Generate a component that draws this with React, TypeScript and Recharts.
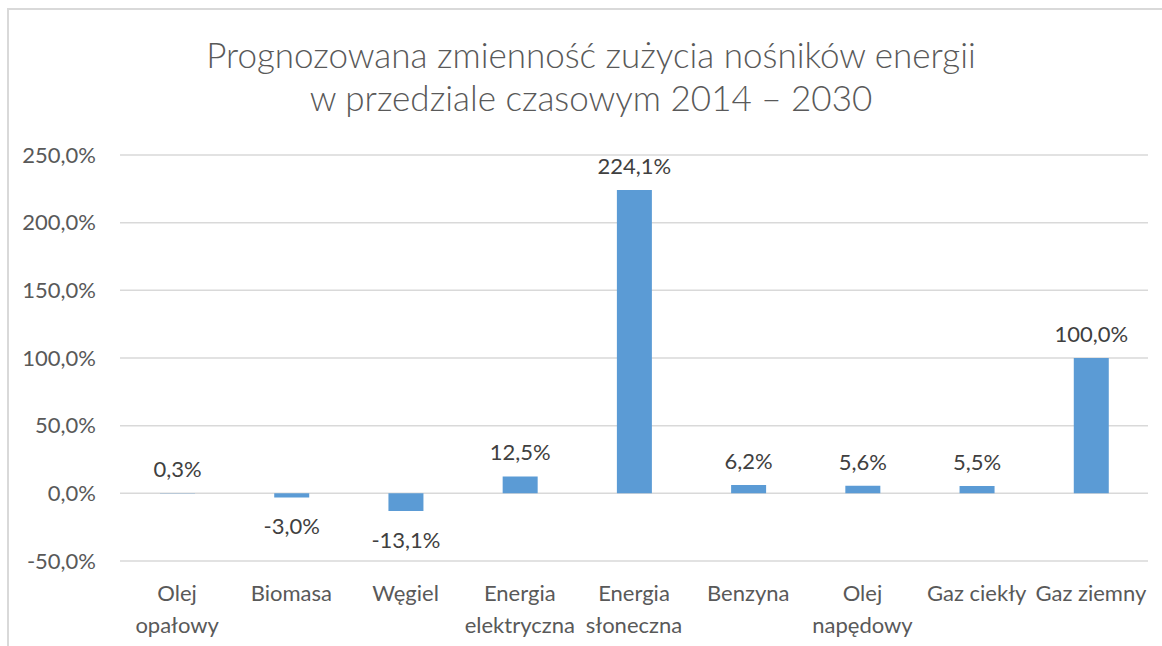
import React from 'react';
import { BarChart, Bar, XAxis, YAxis, CartesianGrid, LabelList } from 'recharts';

const categories = [
  'Olej\nopałowy',
  'Biomasa',
  'Węgiel',
  'Energia\nelektryczna',
  'Energia\nsłoneczna',
  'Benzyna',
  'Olej\nnapędowy',
  'Gaz ciekły',
  'Gaz ziemny',
];
const changes = [0.3, -3.0, -13.1, 12.5, 224.1, 6.2, 5.6, 5.5, 100.0];
const yTicks = [-50, 0, 50, 100, 150, 200, 250];

const data = categories.map((name, i) => ({ name, value: changes[i] }));

const FONT = 'Lato, "Open Sans", sans-serif';
const fmt = (v: number) => `${v.toFixed(1).replace('.', ',')}%`;

const CategoryTick = (props: any) => {
  const { x, y, payload } = props;
  const lines = String(payload.value).split('\n');
  return (
    <g>
      {lines.map((line, i) => (
        <text
          key={i}
          x={x}
          y={y + 29 + i * 32}
          textAnchor="middle"
          dominantBaseline="central"
          fill="#595959"
          fontSize={22}
          fontFamily={FONT}
        >
          {line}
        </text>
      ))}
    </g>
  );
};

const ValueLabel = (props: any) => {
  const { x, y, width, height, value } = props;
  const top = Math.min(y, y + height);
  const bottom = Math.max(y, y + height);
  const ly = value >= 0 ? top - 24.5 : bottom + 28;
  return (
    <text
      x={x + width / 2}
      y={ly}
      textAnchor="middle"
      dominantBaseline="central"
      fill="#404040"
      fontSize={22}
      fontFamily={FONT}
    >
      {fmt(value)}
    </text>
  );
};

export default function App() {
  return (
    <div
      style={{
        position: 'fixed',
        left: 0,
        top: 0,
        width: 1162,
        height: 646,
        background: '#fff',
        fontFamily: FONT,
      }}
    >
      <div
        style={{
          position: 'absolute',
          left: 7,
          top: 8,
          right: -2,
          bottom: -2,
          borderTop: '2px solid #d9d9d9',
          borderLeft: '2px solid #d9d9d9',
        }}
      />
      <div
        style={{
          position: 'absolute',
          left: 0,
          width: 1182,
          top: 33,
          textAlign: 'center',
          color: '#595959',
          fontSize: 35,
          fontWeight: 300,
          lineHeight: '43px',
        }}
      >
        Prognozowana zmienność zużycia nośników energii
        <br />w przedziale czasowym 2014 – 2030
      </div>
      <div style={{ position: 'absolute', left: 0, top: 0 }}>
        <BarChart
          width={1162}
          height={646}
          data={data}
          margin={{ top: 155, right: 14, bottom: 5, left: 0 }}
        >
          <CartesianGrid vertical={false} stroke="#d9d9d9" strokeWidth={1.5} />
          <XAxis
            dataKey="name"
            axisLine={false}
            tickLine={false}
            tickSize={0}
            height={80}
            interval={0}
            tick={<CategoryTick />}
          />
          <YAxis
            domain={[-50, 250]}
            ticks={yTicks}
            width={120}
            axisLine={false}
            tickLine={false}
            tickSize={0}
            tickMargin={24}
            tickFormatter={fmt}
            tick={{ fill: '#595959', fontSize: 22, fontFamily: FONT }}
          />
          <Bar dataKey="value" fill="#5b9bd5" barSize={35} isAnimationActive={false}>
            <LabelList dataKey="value" content={<ValueLabel />} />
          </Bar>
        </BarChart>
      </div>
    </div>
  );
}
